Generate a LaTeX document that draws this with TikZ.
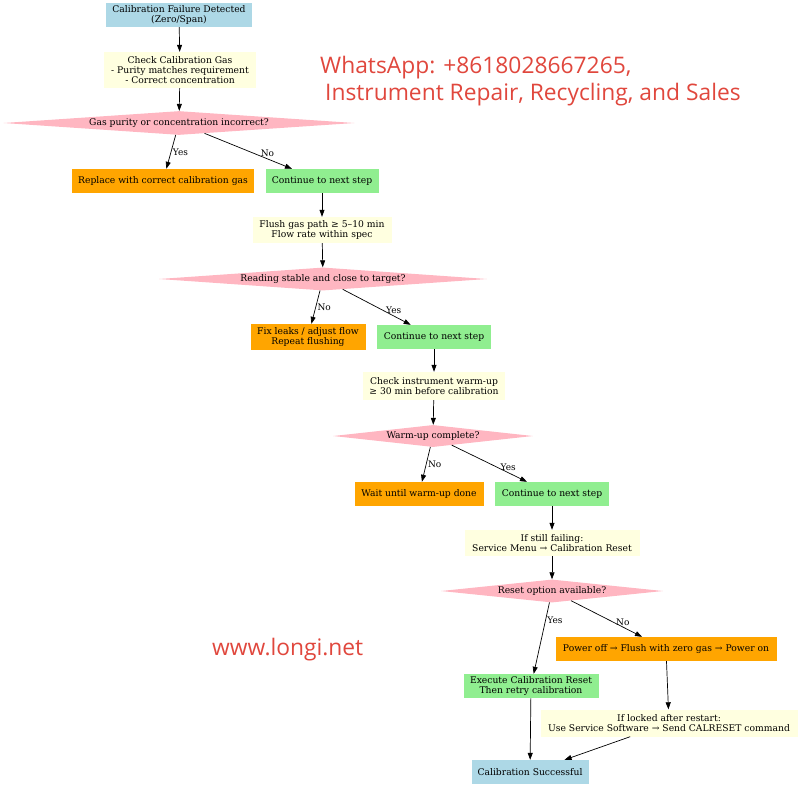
\documentclass[tikz,border=0pt]{standalone}
\usepackage{fontspec}
\setmainfont{DejaVu Serif}
\newfontfamily\markfont{Open Sans}
\usetikzlibrary{shapes.geometric,arrows.meta}

\definecolor{startblue}{HTML}{ADD8E6}
\definecolor{noteyellow}{HTML}{FFFFE0}
\definecolor{askpink}{HTML}{FFB6C1}
\definecolor{fixorange}{HTML}{FFA500}
\definecolor{okgreen}{HTML}{90EE90}
\definecolor{markred}{HTML}{E0473D}

\tikzset{
  box/.style={rectangle, inner sep=0pt, align=center, font=\fontsize{9.2}{10}\selectfont},
  ask/.style={diamond, aspect=12, inner sep=0pt, fill=askpink, font=\fontsize{9.2}{10}\selectfont},
  flow/.style={-{Triangle[length=7pt,width=5pt]}, line width=0.7pt},
  lbl/.style={font=\fontsize{9}{10}\selectfont, inner sep=1.5pt},
  wmark/.style={text=markred, font=\markfont\fontsize{22.8}{26}\selectfont, anchor=west, inner sep=0pt}
}

\begin{document}
\begin{tikzpicture}[x=1pt,y=-1pt]
\useasboundingbox (0,0) rectangle (800,787);

% first check: calibration gas
\node[box, fill=startblue, minimum width=146, minimum height=24] (start) at (179,15) {Calibration Failure Detected\\(Zero/Span)};
\node[box, fill=noteyellow, minimum width=152, minimum height=36] (gas) at (180,70) {Check Calibration Gas\\- Purity matches requirement\\- Correct concentration};
\node[ask, minimum width=351, minimum height=22] (q1) at (179,123) {Gas purity or concentration incorrect?};
\node[box, fill=fixorange, minimum width=182, minimum height=24] (replace) at (163,181) {Replace with correct calibration gas};
\node[box, fill=okgreen, minimum width=113, minimum height=24] (next1) at (322,181) {Continue to next step};

% second check: flushing
\node[box, fill=noteyellow, minimum width=139, minimum height=26] (flush) at (322,230) {Flush gas path ≥ 5–10 min\\Flow rate within spec};
\node[ask, minimum width=328, minimum height=23] (q2) at (323,279) {Reading stable and close to target?};
\node[box, fill=fixorange, minimum width=115, minimum height=26] (leaks) at (308,337) {Fix leaks / adjust flow\\Repeat flushing};
\node[box, fill=okgreen, minimum width=114, minimum height=24] (next2) at (434,337) {Continue to next step};

% third check: warm-up
\node[box, fill=noteyellow, minimum width=142, minimum height=28] (warm) at (434,386) {Check instrument warm-up\\≥ 30 min before calibration};
\node[ask, minimum width=194, minimum height=22] (q3) at (433,436) {Warm-up complete?};
\node[box, fill=fixorange, minimum width=129, minimum height=24] (wait) at (419,494) {Wait until warm-up done};
\node[box, fill=okgreen, minimum width=114, minimum height=24] (next3) at (552,494) {Continue to next step};

% last resort: calibration reset
\node[box, fill=noteyellow, minimum width=175, minimum height=26] (still) at (552,543) {If still failing:\\Service Menu → Calibration Reset};
\node[ask, minimum width=222, minimum height=23] (q4) at (552,591) {Reset option available?};
\node[box, fill=fixorange, minimum width=221, minimum height=24] (power) at (666,649) {Power off → Flush with zero gas → Power on};
\node[box, fill=okgreen, minimum width=135, minimum height=24] (reset) at (531,686) {Execute Calibration Reset\\Then retry calibration};
\node[box, fill=noteyellow, minimum width=257, minimum height=27] (locked) at (669,723) {If locked after restart:\\Use Service Software → Send CALRESET command};
\node[box, fill=startblue, minimum width=117, minimum height=24] (done) at (530,772) {Calibration Successful};

% straight arrows
\foreach \a/\b in {start/gas, gas/q1, next1/flush, flush/q2, next2/warm, warm/q3,
                   next3/still, still/q4, power/locked, reset/done, locked/done}
    \draw[flow] (\a) -- (\b);

% yes / no branches
\draw[flow] (q1) -- node[lbl, right] {Yes} (replace);
\draw[flow] (q1) -- node[lbl, pos=0.72, above] {No} (next1);
\draw[flow] (q2) -- node[lbl, right] {No} (leaks);
\draw[flow] (q2) -- node[lbl, pos=0.75, above] {Yes} (next2);
\draw[flow] (q3) -- node[lbl, right] {No} (wait);
\draw[flow] (q3) -- node[lbl, pos=0.75, above] {Yes} (next3);
\draw[flow] (q4) -- node[lbl, pos=0.25, right] {Yes} (reset);
\draw[flow] (q4) -- node[lbl, pos=0.73, above] {No} (power);

% watermark texts
\node[wmark] (wa) at (320,68) {WhatsApp: +8618028667265,};
\node[wmark] (shop) at (325,95) {Instrument Repair, Recycling, and Sales};
\node[wmark] (site) at (212,650) {www.longi.net};

\end{tikzpicture}
\end{document}
